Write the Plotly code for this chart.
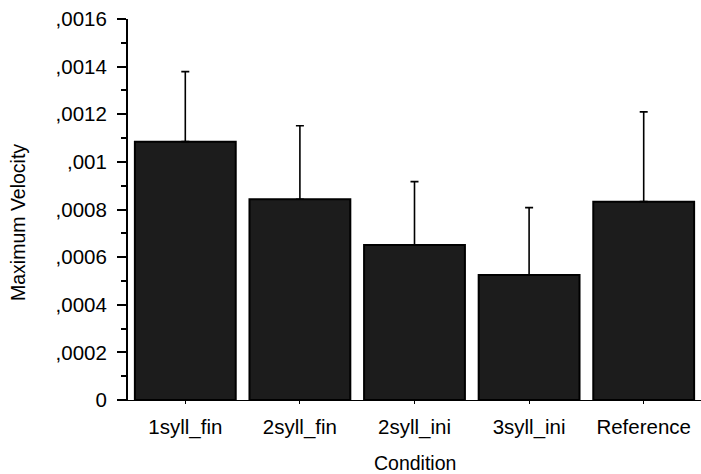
import plotly.graph_objects as go

# Mean maximum velocity per condition, with the upper standard-deviation whisker
conditions = ["1syll_fin", "2syll_fin", "2syll_ini", "3syll_ini", "Reference"]
mean_velocity = [0.001085, 0.000843, 0.000651, 0.000525, 0.000833]
sd_velocity = [0.000294, 0.000309, 0.000266, 0.000283, 0.000377]

y_tick_vals = [0, 0.0002, 0.0004, 0.0006, 0.0008, 0.001, 0.0012, 0.0014, 0.0016]
y_tick_text = ["0", ",0002", ",0004", ",0006", ",0008", ",001", ",0012", ",0014", ",0016"]

FONT = "Liberation Sans, Arial, sans-serif"

fig = go.Figure()
fig.add_trace(go.Bar(
    x=list(range(len(conditions))),
    y=mean_velocity,
    marker=dict(color="#1c1c1c", line=dict(color="black", width=2)),
    error_y=dict(type="data", array=sd_velocity, symmetric=False,
                 arrayminus=[0] * len(conditions),
                 color="black", thickness=1.6, width=4),
    showlegend=False,
))

fig.update_layout(
    width=701, height=474,
    margin=dict(l=128, r=0, t=19, b=74),
    paper_bgcolor="white", plot_bgcolor="white",
    bargap=0.12,
    font=dict(family=FONT, size=20, color="black"),
    xaxis=dict(
        range=[-0.5, 4.5],
        tickvals=list(range(len(conditions))),
        ticktext=conditions,
        showline=True, linecolor="black", linewidth=1,
        ticks="outside", ticklen=3, tickwidth=1, tickcolor="black",
        showgrid=False, zeroline=False,
        ticklabelstandoff=5,
        tickfont=dict(size=20.5),
    ),
    xaxis2=dict(
        overlaying="x", side="top",
        range=[-0.5, 4.5],
        tickvals=list(range(len(conditions))),
        showticklabels=False,
        showline=True, linecolor="black", linewidth=2,
        ticks="outside", ticklen=4, tickwidth=1.5, tickcolor="black",
        showgrid=False, zeroline=False,
    ),
    yaxis=dict(
        range=[0, 0.0016],
        tickvals=y_tick_vals, ticktext=y_tick_text,
        showline=True, linecolor="black", linewidth=2,
        ticks="outside", ticklen=9, tickwidth=1.5, tickcolor="black",
        minor=dict(dtick=0.0001, ticks="outside", ticklen=5, tickwidth=1.5,
                   tickcolor="black"),
        showgrid=False, zeroline=False,
        ticklabelstandoff=6,
        tickfont=dict(size=20.5),
    ),
    annotations=[
        dict(text="Maximum Velocity", textangle=-90,
             xref="paper", yref="paper",
             x=(18 - 128) / 573, y=(400 - 223) / 381,
             xanchor="center", yanchor="middle", showarrow=False,
             font=dict(size=19.5)),
        dict(text="Condition",
             xref="paper", yref="paper",
             x=0.5, y=-(463 - 400) / 381,
             xanchor="center", yanchor="middle", showarrow=False,
             font=dict(size=19.5)),
    ],
)

fig.write_html("out.html")
